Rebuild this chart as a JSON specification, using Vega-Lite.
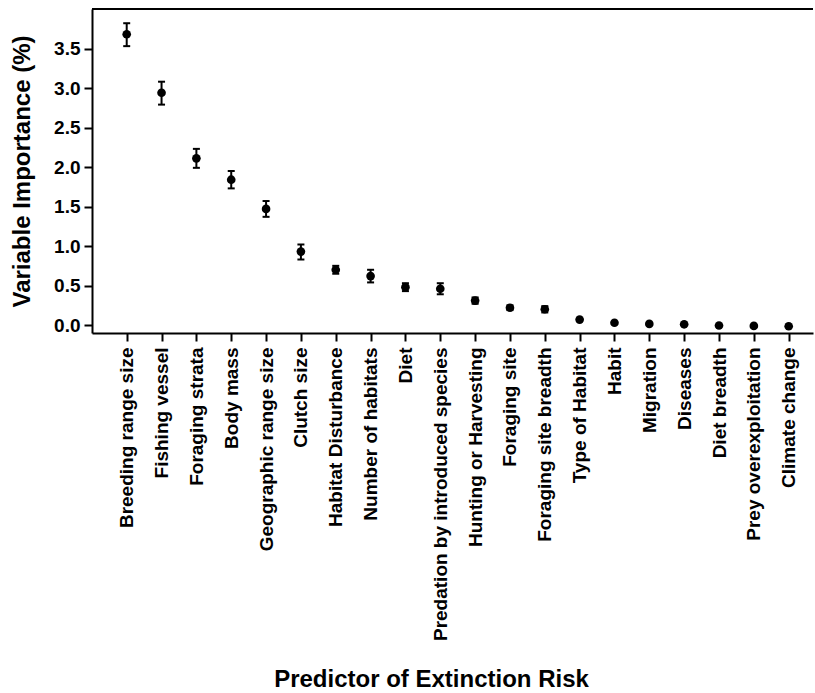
{
  "$schema": "https://vega.github.io/schema/vega-lite/v6.json",
  "width": 721,
  "height": 324,
  "autosize": {"type": "none"},
  "padding": {"left": 92, "top": 9, "right": 2, "bottom": 360},
  "background": "white",
  "config": {
    "view": {"stroke": null},
    "font": "Liberation Sans",
    "axis": {
      "domainColor": "black",
      "domainWidth": 2,
      "tickColor": "black",
      "tickWidth": 2,
      "tickSize": 8,
      "grid": false,
      "labelColor": "black",
      "labelFont": "Liberation Sans",
      "labelFontWeight": "bold",
      "labelFontSize": 19,
      "titleColor": "black",
      "titleFont": "Liberation Sans",
      "titleFontWeight": "bold",
      "titleFontSize": 24
    }
  },
  "data": {
    "values": [
      {"predictor": "Breeding range size", "value": 3.68, "lo": 3.53, "hi": 3.82},
      {"predictor": "Fishing vessel", "value": 2.94, "lo": 2.79, "hi": 3.08},
      {"predictor": "Foraging strata", "value": 2.11, "lo": 1.99, "hi": 2.23},
      {"predictor": "Body mass", "value": 1.84, "lo": 1.73, "hi": 1.95},
      {"predictor": "Geographic range size", "value": 1.47, "lo": 1.37, "hi": 1.57},
      {"predictor": "Clutch size", "value": 0.93, "lo": 0.83, "hi": 1.02},
      {"predictor": "Habitat Disturbance", "value": 0.70, "lo": 0.65, "hi": 0.75},
      {"predictor": "Number of habitats", "value": 0.62, "lo": 0.54, "hi": 0.70},
      {"predictor": "Diet", "value": 0.48, "lo": 0.43, "hi": 0.53},
      {"predictor": "Predation by introduced species", "value": 0.46, "lo": 0.39, "hi": 0.53},
      {"predictor": "Hunting or Harvesting", "value": 0.31, "lo": 0.27, "hi": 0.35},
      {"predictor": "Foraging site", "value": 0.22, "lo": 0.19, "hi": 0.25},
      {"predictor": "Foraging site breadth", "value": 0.20, "lo": 0.16, "hi": 0.24},
      {"predictor": "Type of Habitat", "value": 0.07, "lo": 0.06, "hi": 0.08},
      {"predictor": "Habit", "value": 0.03, "lo": 0.02, "hi": 0.04},
      {"predictor": "Migration", "value": 0.015, "lo": 0.01, "hi": 0.02},
      {"predictor": "Diseases", "value": 0.01, "lo": 0.005, "hi": 0.015},
      {"predictor": "Diet breadth", "value": -0.005, "lo": -0.01, "hi": 0.0},
      {"predictor": "Prey overexploitation", "value": -0.01, "lo": -0.015, "hi": -0.005},
      {"predictor": "Climate change", "value": -0.015, "lo": -0.02, "hi": -0.01}
    ]
  },
  "layer": [
    {
      "mark": {"type": "rule", "strokeWidth": 2, "color": "black"},
      "encoding": {
        "x": {
          "field": "predictor",
          "type": "nominal",
          "sort": null,
          "scale": {"type": "point", "padding": 0.847, "align": 0.588},
          "axis": {
            "title": "Predictor of Extinction Risk",
            "labelAngle": -90,
            "labelPadding": 6,
            "labelLimit": 400,
            "titleX": 339,
            "titleY": 353,
            "titleAnchor": "middle",
            "titleAlign": "center",
            "titleBaseline": "alphabetic"
          }
        },
        "y": {
          "field": "lo",
          "type": "quantitative",
          "scale": {"domain": [-0.1, 4.0], "nice": false, "zero": false},
          "axis": {
            "title": "Variable Importance (%)",
            "values": [0, 0.5, 1, 1.5, 2, 2.5, 3, 3.5],
            "format": ".1f",
            "labelPadding": 4,
            "titleX": -70,
            "titleBaseline": "middle"
          }
        },
        "y2": {"field": "hi"}
      }
    },
    {
      "mark": {"type": "tick", "orient": "horizontal", "size": 7, "thickness": 2, "color": "black", "opacity": 1},
      "encoding": {
        "x": {"field": "predictor", "type": "nominal", "sort": null},
        "y": {"field": "lo", "type": "quantitative"}
      }
    },
    {
      "mark": {"type": "tick", "orient": "horizontal", "size": 7, "thickness": 2, "color": "black", "opacity": 1},
      "encoding": {
        "x": {"field": "predictor", "type": "nominal", "sort": null},
        "y": {"field": "hi", "type": "quantitative"}
      }
    },
    {
      "mark": {"type": "point", "filled": true, "size": 75, "color": "black", "opacity": 1},
      "encoding": {
        "x": {"field": "predictor", "type": "nominal", "sort": null},
        "y": {"field": "value", "type": "quantitative"}
      }
    },
    {
      "data": {"values": [{}]},
      "mark": {"type": "rule", "strokeWidth": 2, "color": "black"},
      "encoding": {"y": {"datum": 4.0}}
    }
  ]
}
